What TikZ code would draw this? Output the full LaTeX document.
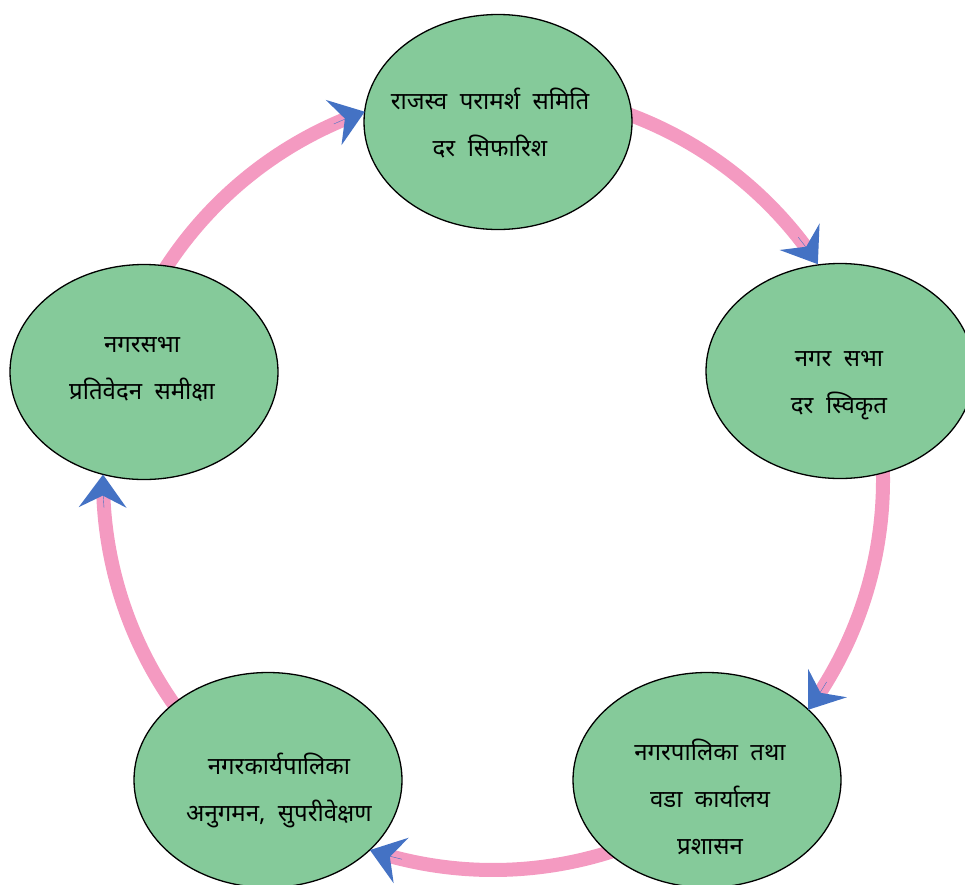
\documentclass[tikz,border=0pt]{standalone}
\usepackage{fontspec}
\newfontfamily\deva[Script=Devanagari,WordSpace=2]{Noto Sans}
\usetikzlibrary{arrows.meta,shapes.geometric}
\definecolor{ellgreen}{RGB}{133,202,154}
\definecolor{arcpink}{RGB}{244,154,193}
\definecolor{tipblue}{RGB}{68,114,196}
\pgfdeclarelayer{background}
\pgfsetlayers{background,main}
\begin{document}
\begin{tikzpicture}[x=1pt,y=-1pt,
  bubble/.style={ellipse, draw=black, line width=1.3pt, fill=ellgreen, inner sep=0pt, minimum width=268pt, minimum height=215pt},
  txt/.style={align=center, font=\deva\fontsize{24}{47}\selectfont, inner sep=0pt},
  ring/.style={draw=arcpink, line width=14pt},
  tipring/.style={draw=tipblue, line width=0.4pt, -{Stealth[length=33pt,width=48pt,inset=12pt,line width=0pt,color=tipblue]}}]
\useasboundingbox (0,0) rectangle (965,884);
\coordinate (O) at (493,480);
\begin{pgfonlayer}{background}
\draw[ring] (O) ++(-74:390) arc[start angle=-74,end angle=-35.6,radius=390];
\draw[ring] (O) ++(-6:390) arc[start angle=-6,end angle=34.1,radius=390];
\draw[ring] (O) ++(68:390) arc[start angle=68,end angle=106.4,radius=390];
\draw[ring] (O) ++(140:390) arc[start angle=140,end angle=178.8,radius=390];
\draw[ring] (O) ++(208:390) arc[start angle=208,end angle=248.8,radius=390];
\end{pgfonlayer}
\node[bubble] (e1) at (498,122) {};
\node[bubble] (e2) at (840,371) {};
\node[bubble] (e3) at (707,780) {};
\node[bubble] (e4) at (268,780) {};
\node[bubble] (e5) at (144,372) {};
\node[txt] (t1) at (490,123) {राजस्व परामर्श समिति\\दर सिफारिश};
\node[txt] (t2) at (839,386) {नगर सभा\\दर स्विकृत};
\node[txt] (t3) at (710,797) {नगरपालिका तथा\\ वडा कार्यालय\\प्रशासन};
\node[txt] (t4) at (279,790) {नगरकार्यपालिका\\अनुगमन, सुपरीवेक्षण};
\node[txt] (t5) at (142,369) {नगरसभा\\प्रतिवेदन समीक्षा};
\draw[tipring] (O) ++(-38.5:390) arc[start angle=-38.5,end angle=-33.6,radius=390];
\draw[tipring] (O) ++(31.2:390) arc[start angle=31.2,end angle=36.1,radius=390];
\draw[tipring] (O) ++(103.5:390) arc[start angle=103.5,end angle=108.4,radius=390];
\draw[tipring] (O) ++(175.9:390) arc[start angle=175.9,end angle=180.8,radius=390];
\draw[tipring] (O) ++(245.9:390) arc[start angle=245.9,end angle=250.8,radius=390];
\end{tikzpicture}
\end{document}
